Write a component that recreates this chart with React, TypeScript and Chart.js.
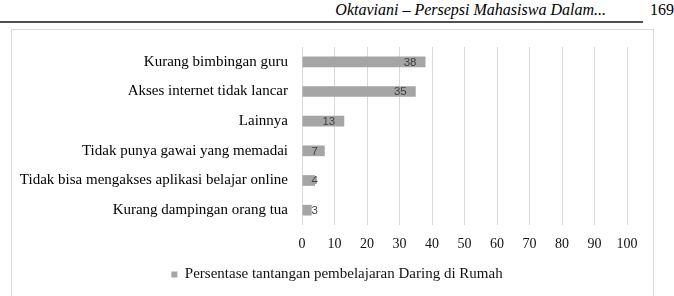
import React, { useEffect, useRef } from "react";
import { Chart, registerables } from "chart.js";

Chart.register(...registerables);

const categories = [
  "Kurang bimbingan guru",
  "Akses internet tidak lancar",
  "Lainnya",
  "Tidak punya gawai yang memadai",
  "Tidak bisa mengakses aplikasi belajar online",
  "Kurang dampingan orang tua",
];
const seriesValues = [38, 35, 13, 7, 4, 3];
const seriesName = "Persentase tantangan pembelajaran Daring di Rumah";
const xTicks = [0, 10, 20, 30, 40, 50, 60, 70, 80, 90, 100];
const headerTitle = "Oktaviani – Persepsi Mahasiswa Dalam...";
const pageNumber = "169";

const SERIF = '"Liberation Serif", "Times New Roman", serif';

const barLabelPlugin = {
  id: "barLabels",
  afterDatasetsDraw(chart: any) {
    const ctx = chart.ctx;
    const meta = chart.getDatasetMeta(0);
    ctx.save();
    ctx.font = '11.5px "Liberation Sans", Arial, sans-serif';
    ctx.fillStyle = "#404040";
    ctx.textBaseline = "middle";
    ctx.textAlign = "left";
    meta.data.forEach((bar: any, i: number) => {
      const text = String(chart.data.datasets[0].data[i]);
      const w = ctx.measureText(text).width;
      const left = Math.max(bar.x - 9 - w, bar.base + 9);
      ctx.fillText(text, left, bar.y + 0.5);
    });
    ctx.restore();
  },
};

export default function App() {
  const ref = useRef<HTMLCanvasElement | null>(null);

  useEffect(() => {
    if (!ref.current) return;
    const chart = new Chart(ref.current, {
      type: "bar",
      data: {
        labels: categories,
        datasets: [
          {
            label: seriesName,
            data: seriesValues,
            backgroundColor: "#a5a5a5",
            borderWidth: 0,
            categoryPercentage: 1,
            barPercentage: 0.36,
            yAxisID: "y",
            xAxisID: "x",
          },
        ],
      },
      options: {
        indexAxis: "y",
        animation: false,
        responsive: false,
        maintainAspectRatio: false,
        layout: { padding: { top: 47, right: 0, left: 0, bottom: 4 } },
        plugins: {
          legend: {
            display: true,
            position: "bottom",
            labels: {
              boxWidth: 6,
              boxHeight: 6,
              padding: 10,
              color: "#111",
              font: { family: SERIF, size: 15 },
            },
          },
          tooltip: { enabled: false },
        },
        scales: {
          y: {
            afterFit: (s: any) => {
              s.width = 302;
            },
            grid: { display: false, drawTicks: false },
            border: { display: false },
            ticks: {
              padding: 14,
              color: "#000",
              font: { family: SERIF, size: 15 },
            },
          },
          spacer: {
            type: "linear",
            position: "right",
            display: true,
            min: 0,
            max: 1,
            afterFit: (s: any) => {
              s.width = 47;
            },
            grid: { display: false, drawTicks: false },
            border: { display: false },
            ticks: { display: false },
          },
          x: {
            min: 0,
            max: 100,
            afterFit: (s: any) => {
              s.height = 32;
            },
            afterBuildTicks: (s: any) => {
              s.ticks = xTicks.map((v) => ({ value: v }));
            },
            grid: { color: "#d9d9d9", lineWidth: 1, drawTicks: false },
            border: { display: false },
            ticks: {
              padding: 11,
              color: "#111",
              font: { family: SERIF, size: 14 },
            },
          },
        },
      },
      plugins: [barLabelPlugin],
    } as any);
    return () => chart.destroy();
  }, []);

  return (
    <div
      style={{
        position: "fixed",
        left: 0,
        top: 0,
        width: 674,
        height: 296,
        background: "#fff",
        overflow: "hidden",
      }}
    >
      <div
        style={{
          position: "absolute",
          right: 68,
          top: 1,
          fontFamily: SERIF,
          fontStyle: "italic",
          fontSize: 16,
          color: "#000",
          whiteSpace: "nowrap",
        }}
      >
        {headerTitle}
      </div>
      <div
        style={{
          position: "absolute",
          left: 650,
          top: 1,
          fontFamily: SERIF,
          fontSize: 16,
          color: "#000",
          whiteSpace: "nowrap",
        }}
      >
        {pageNumber}
      </div>
      <div
        style={{
          position: "absolute",
          left: 0,
          top: 21,
          width: 643,
          height: 2,
          background: "#505050",
        }}
      />
      <div
        style={{
          position: "absolute",
          left: 11,
          top: 29,
          width: 643,
          height: 300,
          border: "1px solid #d9d9d9",
          boxSizing: "border-box",
        }}
      />
      <canvas
        ref={ref}
        width={674}
        height={296}
        style={{ position: "absolute", left: 0, top: 0, width: 674, height: 296 }}
      />
    </div>
  );
}
